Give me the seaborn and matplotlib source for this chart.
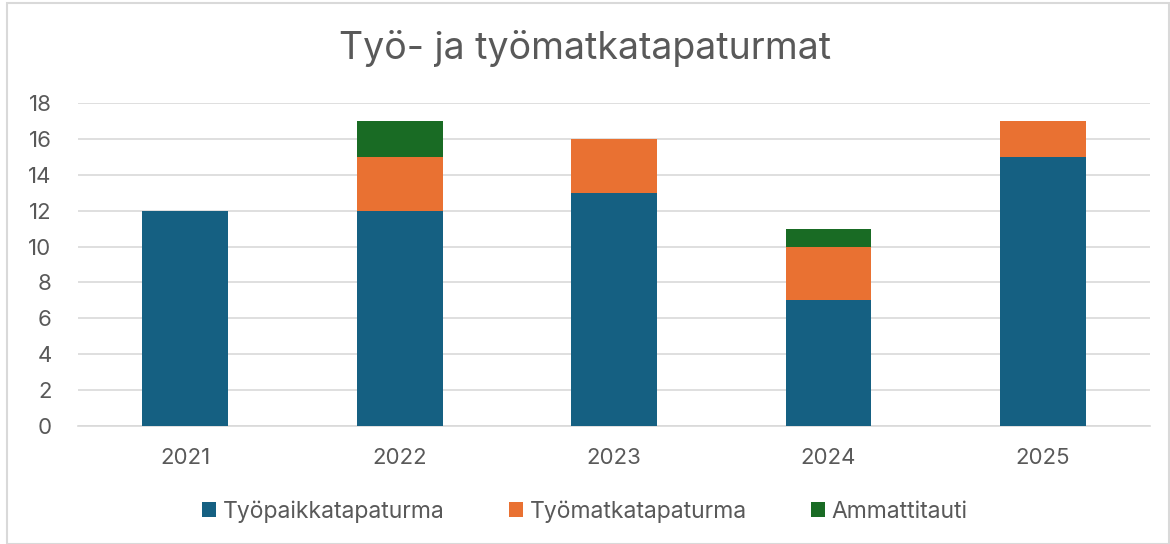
import matplotlib
matplotlib.use('Agg')
import matplotlib.pyplot as plt
import seaborn as sns
import pandas as pd
import numpy as np
from matplotlib.patches import Patch, Rectangle

# Data
years = ['2021', '2022', '2023', '2024', '2025']
tyopaikka = [12, 12, 13, 7, 15]
tyomatka = [0, 3, 3, 3, 2]
ammattitauti = [0, 2, 0, 1, 0]
series_names = ['Työpaikkatapaturma', 'Työmatkatapaturma', 'Ammattitauti']
colors = ['#156082', '#E97132', '#196B24']

sns.set_theme(style='white')
plt.rcParams['font.family'] = ['Inter', 'DejaVu Sans']

df = pd.DataFrame({
    'year': years,
    'wp': tyopaikka,
    'wm': tyomatka,
    'am': ammattitauti,
})
# cumulative stacks, drawn top-down so lower segments overlay the upper ones
df['top3'] = df['wp'] + df['wm'] + df['am']
df['top2'] = df['wp'] + df['wm']
df['top1'] = df['wp']

fig = plt.figure(figsize=(11.7, 5.44), dpi=100)
ax = fig.add_axes([0.0667, 0.2169, 0.9163, 0.5938])

for col, c in zip(['top3', 'top2', 'top1'], colors[::-1]):
    sns.barplot(data=df, x='year', y=col, color=c, width=0.4,
                saturation=1, ax=ax, zorder=3, edgecolor='none', linewidth=0)

ax.set_ylim(0, 18)
ax.set_xlim(-0.5, 4.5)
ax.set_yticks(np.arange(0, 19, 2))
ax.yaxis.grid(True, color='#D9D9D9', linewidth=1.2, zorder=0)
ax.set_axisbelow(True)
for s in ['top', 'right', 'left']:
    ax.spines[s].set_visible(False)
ax.spines['bottom'].set_color('#D9D9D9')
ax.spines['bottom'].set_linewidth(1.2)
ax.set_xlabel('')
ax.set_ylabel('')
ax.tick_params(axis='both', length=0, labelsize=16, labelcolor='#595959')
ax.tick_params(axis='x', pad=16)
ax.tick_params(axis='y', pad=19)

fig.suptitle('Työ- ja työmatkatapaturmat', x=0.5, y=0.945, fontsize=27,
             color='#595959')

handles = [Patch(facecolor=c, edgecolor='none') for c in colors]
fig.legend(handles, series_names, loc='center', bbox_to_anchor=(0.5, 0.06),
           ncol=3, frameon=False, fontsize=16.5, handlelength=0.6,
           handleheight=0.6, handletextpad=0.3, columnspacing=2.8,
           labelcolor='#595959')

# outer chart border
fig.patches.append(Rectangle((0.006, 0.0), 0.993, 0.994, transform=fig.transFigure,
                             fill=False, edgecolor='#D9D9D9', linewidth=1.5))

fig.savefig('out.png', dpi=100)
